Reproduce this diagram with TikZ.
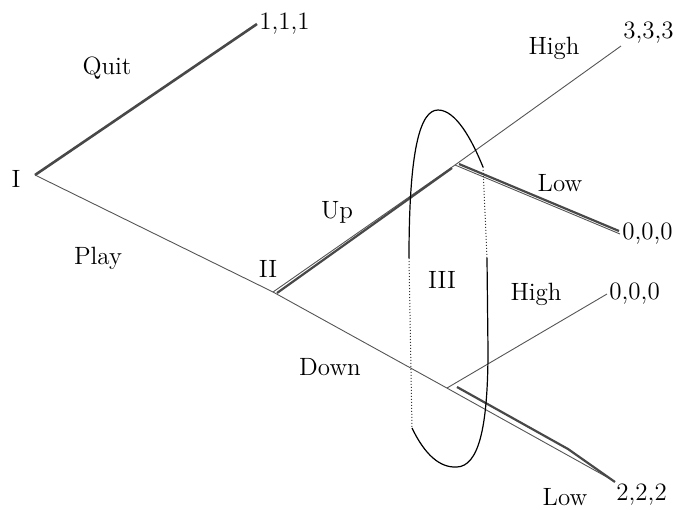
\documentclass[tikz,border=0pt]{standalone}
\usepackage{xcolor}
\usepackage{tikz}
\usetikzlibrary{calc}
\definecolor{ink}{HTML}{000000}
\definecolor{edge}{HTML}{555555}
\definecolor{strat}{HTML}{484848}

\begin{document}
\begin{tikzpicture}[x=0.5pt,y=-0.5pt,
    lbl/.style={font=\fontsize{12.5}{15}\selectfont,inner sep=1pt},
    br/.style={edge,line width=0.45pt},
    pl/.style={strat,line width=1.1pt},
    info/.style={ink,line width=0.6pt},
    infodot/.style={ink!80,densely dotted,line width=0.5pt}]
  \useasboundingbox (0,0) rectangle (682,510);
  \coordinate (nI) at (35,175);
  \coordinate (nII) at (273,292);
  \coordinate (nU) at (455,165);
  \coordinate (nD) at (445,387);
  \node[lbl] (tI) at (16,179) {I};
  \node[lbl] (tII) at (268,269) {II};
  \node[lbl] (tIII) at (442,280) {III};
  \node[lbl,anchor=west] (p111) at (257,24) {1,1,1};
  \node[lbl,anchor=south west] (p333) at (621,46) {3,3,3};
  \node[lbl,anchor=west] (p000a) at (620,234) {0,0,0};
  \node[lbl,anchor=west] (p000b) at (607,294) {0,0,0};
  \node[lbl,anchor=north west] (p222) at (614,481) {2,2,2};
  \foreach \nm/\x/\y/\t in {quit/107/68/Quit, play/98/258/Play, up/337/212/Up, down/330/367/Down,
      hiu/554/48/High, lou/560/183/Low, hid/536/294/High, lod/565/497/Low}
    \node[lbl] (a\nm) at (\x,\y) {\t};
  \draw[pl,line width=1.3pt] (nI) -- (p111.west);
  \draw[br] (nI) -- (nII) -- (nD);
  \draw[br] (nII) -- (nU) -- (p333.south west);
  \draw[br] (nU) -- (p000a.west);
  \draw[br] ($(nD)+(2,1)$) -- (p000b.west);
  \draw[br] (nD) -- (p222.north west);
  \draw[pl] ($(nII)+(4,1)$) -- ($(nU)+(-3,3)$);
  \draw[pl] ($(nU)+(4,-1)$) -- ($(p000a.west)+(-1,-3)$);
  \draw[pl] ($(nD)+(12,0)$) -- (568,449) -- ($(p222.north west)+(1,1)$);
  \draw[info] (409,258) .. controls (409,150) and (420,110) .. (438,110)
       .. controls (456,110) and (472,140) .. (483,167);
  \draw[infodot] (483,167) -- (487,258);
  \draw[infodot] (409,258) -- (412,428);
  \draw[info] (412,428) .. controls (425,455) and (440,468) .. (457,467)
       .. controls (478,466) and (488,430) .. (488,350) -- (487,258);
\end{tikzpicture}
\end{document}
